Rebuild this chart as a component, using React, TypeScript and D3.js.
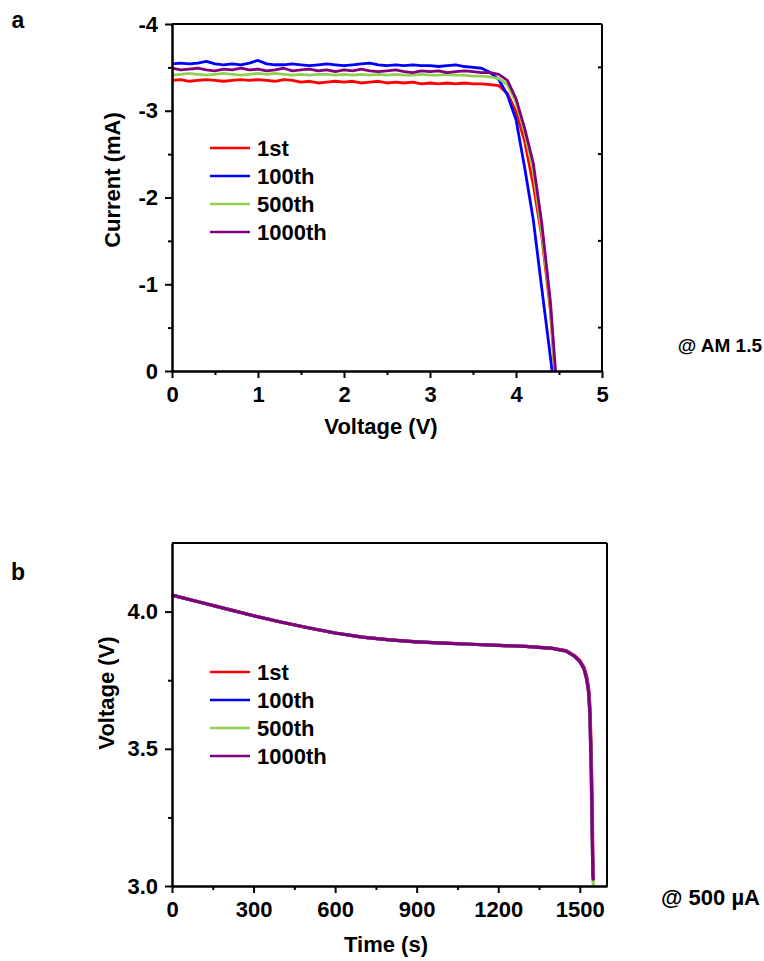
import React, { useEffect, useRef } from 'react';
import * as d3 from 'd3';

const width = 764;
const height = 961;
const font = '"Liberation Sans", Arial, sans-serif';
const fs = 22;

const seriesNames = ['1st', '100th', '500th', '1000th'];
const seriesColors = ['#ff0000', '#0000ff', '#92d050', '#800080'];

// panel a: I-V curves, voltage grid 0..4.4 V, current in mA
const ivVoltage = [
  0, 0.1, 0.2, 0.3, 0.4, 0.5, 0.6, 0.7, 0.8, 0.9,
  1.0, 1.1, 1.2, 1.3, 1.4, 1.5, 1.6, 1.7, 1.8, 1.9,
  2.0, 2.1, 2.2, 2.3, 2.4, 2.5, 2.6, 2.7, 2.8, 2.9,
  3.0, 3.1, 3.2, 3.3, 3.4, 3.5, 3.6, 3.7,
  3.8, 3.9, 4.0, 4.1, 4.2, 4.3, 4.4
];
const ivEndVoltage = [4.45, 4.42, 4.45, 4.46];
const ivRed = [
  -3.35, -3.36, -3.34, -3.35, -3.36, -3.35, -3.34, -3.35, -3.36, -3.35,
  -3.36, -3.35, -3.34, -3.36, -3.35, -3.33, -3.34, -3.32, -3.33, -3.34,
  -3.33, -3.34, -3.32, -3.33, -3.34, -3.32, -3.33, -3.32, -3.33, -3.31,
  -3.32, -3.31, -3.32, -3.31, -3.32, -3.31, -3.31, -3.30,
  -3.29, -3.20, -2.99, -2.65, -2.15, -1.55, -0.70
];
const ivBlue = [
  -3.54, -3.55, -3.54, -3.55, -3.57, -3.54, -3.53, -3.54, -3.53, -3.55,
  -3.58, -3.54, -3.53, -3.53, -3.54, -3.53, -3.52, -3.53, -3.54, -3.53,
  -3.52, -3.53, -3.54, -3.55, -3.53, -3.52, -3.53, -3.52, -3.53, -3.52,
  -3.52, -3.51, -3.52, -3.53, -3.51, -3.50, -3.49, -3.44,
  -3.36, -3.18, -2.90, -2.35, -1.75, -0.95, -0.16
];
const ivGreen = [
  -3.41, -3.42, -3.43, -3.42, -3.41, -3.42, -3.43, -3.42, -3.41, -3.42,
  -3.43, -3.42, -3.43, -3.42, -3.41, -3.42, -3.41, -3.42, -3.42, -3.41,
  -3.42, -3.41, -3.42, -3.41, -3.42, -3.41, -3.42, -3.41, -3.41, -3.42,
  -3.41, -3.41, -3.42, -3.41, -3.41, -3.40, -3.40, -3.39,
  -3.37, -3.30, -3.10, -2.75, -2.30, -1.60, -0.75
];
const ivPurple = [
  -3.49, -3.47, -3.48, -3.49, -3.47, -3.46, -3.48, -3.47, -3.49, -3.47,
  -3.48, -3.46, -3.47, -3.49, -3.46, -3.47, -3.48, -3.46, -3.47, -3.45,
  -3.47, -3.46, -3.48, -3.46, -3.45, -3.46, -3.47, -3.45, -3.44, -3.46,
  -3.45, -3.46, -3.44, -3.45, -3.46, -3.45, -3.44, -3.44,
  -3.42, -3.35, -3.14, -2.80, -2.40, -1.70, -0.80
];

// panel b: discharge curves, time in s, voltage in V
const dcTime = [
  0, 100, 200, 300, 400, 500, 600, 700, 800, 900, 1000, 1100, 1200, 1300, 1400,
  1450, 1480, 1500, 1515, 1525, 1532, 1537, 1542, 1546, 1548, 1550
];
const dcRed = [
  4.06, 4.035, 4.01, 3.985, 3.962, 3.941, 3.922, 3.907, 3.897, 3.89, 3.885, 3.881, 3.877, 3.873, 3.866,
  3.858, 3.84, 3.822, 3.798, 3.765, 3.725, 3.66, 3.5, 3.28, 3.1, 3.03
];
const dcBlue = [
  4.06, 4.035, 4.01, 3.985, 3.962, 3.941, 3.922, 3.907, 3.897, 3.89, 3.885, 3.881, 3.877, 3.873, 3.866,
  3.856, 3.838, 3.818, 3.792, 3.755, 3.71, 3.63, 3.42, 3.17, 3.04, 3.02
];
const dcGreen = [
  4.06, 4.035, 4.01, 3.985, 3.962, 3.941, 3.922, 3.907, 3.897, 3.89, 3.885, 3.881, 3.877, 3.873, 3.866,
  3.856, 3.838, 3.818, 3.792, 3.755, 3.71, 3.63, 3.42, 3.17, 3.04, 3.0
];
const dcPurple = [
  4.06, 4.035, 4.01, 3.985, 3.962, 3.941, 3.922, 3.907, 3.897, 3.89, 3.885, 3.881, 3.877, 3.873, 3.866,
  3.856, 3.838, 3.818, 3.792, 3.755, 3.71, 3.63, 3.42, 3.17, 3.04, 3.02
];

const ivTicksX = [0, 1, 2, 3, 4, 5];
const ivMinorX = [0.5, 1.5, 2.5, 3.5, 4.5];
const ivTicksY = [0, -1, -2, -3, -4];
const ivMinorY = [-0.5, -1.5, -2.5, -3.5];
const dcTicksX = [0, 300, 600, 900, 1200, 1500];
const dcMinorX = [150, 450, 750, 1050, 1350];
const dcTicksY = [3.0, 3.5, 4.0];
const dcMinorY = [3.25, 3.75];

type Pt = [number, number];

function drawFrame(g, x, y, o) {
  const [x0, x1] = x.range();
  const [y0, y1] = y.range();

  const bottom = g.append('g').attr('transform', `translate(0,${y0})`)
    .call(d3.axisBottom(x).tickValues(o.ticksX).tickSize(7).tickSizeOuter(0).tickPadding(8).tickFormat(o.fmtX));
  g.append('g').attr('transform', `translate(0,${y0})`)
    .call(d3.axisBottom(x).tickValues(o.minorX).tickSize(4).tickSizeOuter(0).tickFormat(() => ''));
  const left = g.append('g').attr('transform', `translate(${x0},0)`)
    .call(d3.axisLeft(y).tickValues(o.ticksY).tickSize(7).tickSizeOuter(0).tickPadding(7).tickFormat(o.fmtY));
  g.append('g').attr('transform', `translate(${x0},0)`)
    .call(d3.axisLeft(y).tickValues(o.minorY).tickSize(4).tickSizeOuter(0).tickFormat(() => ''));

  g.selectAll('.domain').attr('stroke', '#000').attr('stroke-width', 2);
  g.selectAll('.tick line').attr('stroke', '#000').attr('stroke-width', 2);
  [bottom, left].forEach(a => a.selectAll('text')
    .attr('font-family', font).attr('font-weight', 'bold').attr('font-size', fs).attr('fill', '#000'));

  g.append('line').attr('x1', x0).attr('x2', x1).attr('y1', y1).attr('y2', y1)
    .attr('stroke', '#000').attr('stroke-width', 2);
  g.append('line').attr('x1', x1).attr('x2', x1).attr('y1', y1).attr('y2', y0)
    .attr('stroke', '#000').attr('stroke-width', 2);

  if (o.rightMinor) {
    g.selectAll('.rtick').data(o.rightMinor).join('line')
      .attr('x1', x1 - 4).attr('x2', x1)
      .attr('y1', d => y(d)).attr('y2', d => y(d))
      .attr('stroke', '#000').attr('stroke-width', 2);
  }
}

function drawLegend(g, x0, y0, step) {
  seriesNames.forEach((name, i) => {
    g.append('line').attr('x1', x0).attr('x2', x0 + 40)
      .attr('y1', y0 + i * step).attr('y2', y0 + i * step)
      .attr('stroke', seriesColors[i]).attr('stroke-width', 2.5);
    g.append('text').attr('x', x0 + 47).attr('y', y0 + i * step + 8)
      .attr('font-family', font).attr('font-weight', 'bold').attr('font-size', fs)
      .text(name);
  });
}

function label(g, txt, x, y, o: any = {}) {
  const t = g.append('text').attr('x', x).attr('y', y)
    .attr('font-family', font).attr('font-weight', 'bold')
    .attr('font-size', o.size || fs).attr('text-anchor', o.anchor || 'middle')
    .text(txt);
  if (o.rotate) t.attr('transform', `rotate(-90,${x},${y})`);
}

export default function App() {
  const ref = useRef<SVGSVGElement>(null);

  useEffect(() => {
    const svg = d3.select(ref.current);
    svg.selectAll('*').remove();
    const line = d3.line<Pt>();

    // ---- panel a
    const ga = svg.append('g');
    const xa = d3.scaleLinear().domain([0, 5]).range([172, 602]);
    const ya = d3.scaleLinear().domain([0, -4]).range([371, 24]);
    const ivSets = [ivRed, ivBlue, ivGreen, ivPurple];
    ivSets.forEach((vals, i) => {
      const pts: Pt[] = ivVoltage.map((v, k) => [xa(v), ya(vals[k])] as Pt);
      pts.push([xa(ivEndVoltage[i]), ya(0)]);
      ga.append('path').attr('d', line(pts)).attr('fill', 'none')
        .attr('stroke', seriesColors[i]).attr('stroke-width', 2.8).attr('stroke-linejoin', 'round');
    });
    drawFrame(ga, xa, ya, {
      ticksX: ivTicksX, minorX: ivMinorX, ticksY: ivTicksY, minorY: ivMinorY,
      fmtX: d => String(d), fmtY: d => String(d), rightMinor: ivMinorY
    });
    drawLegend(ga, 210, 148, 28);
    label(ga, 'a', 18, 28, { size: 23 });
    label(ga, 'Voltage (V)', 381, 434);
    label(ga, 'Current (mA)', 120, 180, { rotate: true });
    label(ga, '@ AM 1.5', 762, 352, { anchor: 'end', size: 19 });

    // ---- panel b
    const gb = svg.append('g');
    const xb = d3.scaleLinear().domain([0, 1600]).range([172, 607]);
    const yb = d3.scaleLinear().domain([3.0, 4.25]).range([886, 543]);
    const dcSets = [dcRed, dcBlue, dcGreen, dcPurple];
    dcSets.forEach((vals, i) => {
      const pts: Pt[] = dcTime.map((t, k) => [xb(t), yb(vals[k])] as Pt);
      gb.append('path').attr('d', line(pts)).attr('fill', 'none')
        .attr('stroke', seriesColors[i]).attr('stroke-width', 3.2).attr('stroke-linejoin', 'round');
    });
    drawFrame(gb, xb, yb, {
      ticksX: dcTicksX, minorX: dcMinorX, ticksY: dcTicksY, minorY: dcMinorY,
      fmtX: d => String(d), fmtY: d3.format('.1f')
    });
    drawLegend(gb, 210, 672, 28);
    label(gb, 'b', 18, 580, { size: 23 });
    label(gb, 'Time (s)', 386, 952);
    label(gb, 'Voltage (V)', 114, 693, { rotate: true });
    label(gb, '@ 500 \u00b5A', 760, 905, { anchor: 'end' });
  }, []);

  return (
    <svg ref={ref} width={width} height={height}
      style={{ position: 'absolute', left: 0, top: 0, background: '#fff' }} />
  );
}
